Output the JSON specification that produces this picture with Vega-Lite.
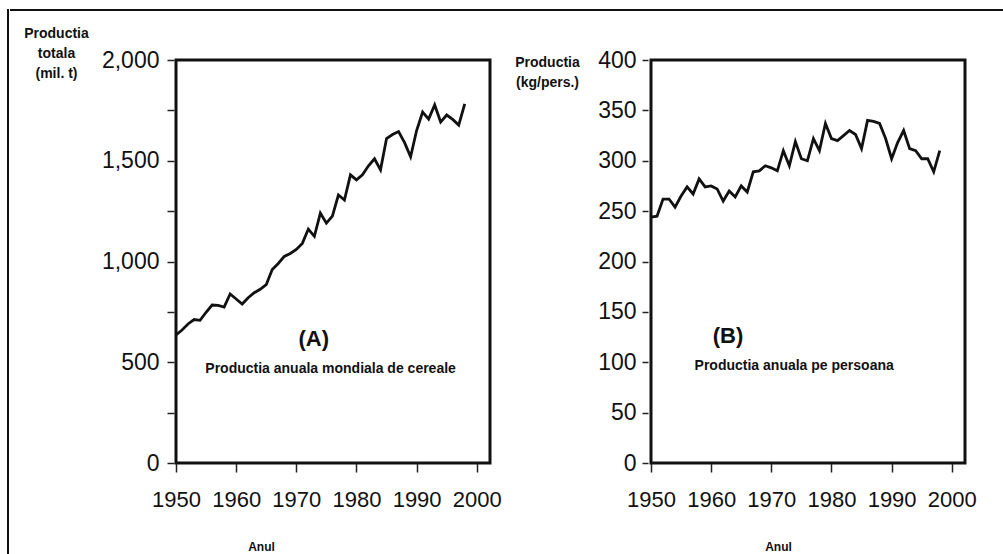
{
  "$schema": "https://vega.github.io/schema/vega-lite/v6.json",
  "background": "white",
  "padding": {"left": 7, "top": 9, "right": 0, "bottom": 0},
  "spacing": 0,
  "datasets": {
    "prod": [
      {"year": 1950, "value": 635}, {"year": 1951, "value": 660}, {"year": 1952, "value": 690}, {"year": 1953, "value": 712},
      {"year": 1954, "value": 708}, {"year": 1955, "value": 748}, {"year": 1956, "value": 784}, {"year": 1957, "value": 782},
      {"year": 1958, "value": 774}, {"year": 1959, "value": 839}, {"year": 1960, "value": 814}, {"year": 1961, "value": 789},
      {"year": 1962, "value": 820}, {"year": 1963, "value": 845}, {"year": 1964, "value": 862}, {"year": 1965, "value": 885},
      {"year": 1966, "value": 960}, {"year": 1967, "value": 990}, {"year": 1968, "value": 1025}, {"year": 1969, "value": 1040},
      {"year": 1970, "value": 1060}, {"year": 1971, "value": 1090}, {"year": 1972, "value": 1161}, {"year": 1973, "value": 1125},
      {"year": 1974, "value": 1240}, {"year": 1975, "value": 1190}, {"year": 1976, "value": 1225}, {"year": 1977, "value": 1330},
      {"year": 1978, "value": 1305}, {"year": 1979, "value": 1430}, {"year": 1980, "value": 1405}, {"year": 1981, "value": 1430},
      {"year": 1982, "value": 1475}, {"year": 1983, "value": 1510}, {"year": 1984, "value": 1455}, {"year": 1985, "value": 1610},
      {"year": 1986, "value": 1630}, {"year": 1987, "value": 1645}, {"year": 1988, "value": 1590}, {"year": 1989, "value": 1520},
      {"year": 1990, "value": 1650}, {"year": 1991, "value": 1742}, {"year": 1992, "value": 1707}, {"year": 1993, "value": 1777},
      {"year": 1994, "value": 1692}, {"year": 1995, "value": 1727}, {"year": 1996, "value": 1705}, {"year": 1997, "value": 1677},
      {"year": 1998, "value": 1782}
    ],
    "pc": [
      {"year": 1950, "value": 244}, {"year": 1951, "value": 245}, {"year": 1952, "value": 262}, {"year": 1953, "value": 262},
      {"year": 1954, "value": 254}, {"year": 1955, "value": 265}, {"year": 1956, "value": 274}, {"year": 1957, "value": 267},
      {"year": 1958, "value": 282}, {"year": 1959, "value": 274}, {"year": 1960, "value": 275}, {"year": 1961, "value": 272},
      {"year": 1962, "value": 260}, {"year": 1963, "value": 270}, {"year": 1964, "value": 264}, {"year": 1965, "value": 275},
      {"year": 1966, "value": 269}, {"year": 1967, "value": 289}, {"year": 1968, "value": 290}, {"year": 1969, "value": 295},
      {"year": 1970, "value": 293}, {"year": 1971, "value": 290}, {"year": 1972, "value": 310}, {"year": 1973, "value": 295},
      {"year": 1974, "value": 319}, {"year": 1975, "value": 302}, {"year": 1976, "value": 300}, {"year": 1977, "value": 322},
      {"year": 1978, "value": 310}, {"year": 1979, "value": 337}, {"year": 1980, "value": 322}, {"year": 1981, "value": 320},
      {"year": 1982, "value": 325}, {"year": 1983, "value": 330}, {"year": 1984, "value": 326}, {"year": 1985, "value": 312},
      {"year": 1986, "value": 340}, {"year": 1987, "value": 339}, {"year": 1988, "value": 337}, {"year": 1989, "value": 322},
      {"year": 1990, "value": 302}, {"year": 1991, "value": 318}, {"year": 1992, "value": 330}, {"year": 1993, "value": 312},
      {"year": 1994, "value": 310}, {"year": 1995, "value": 302}, {"year": 1996, "value": 302}, {"year": 1997, "value": 289},
      {"year": 1998, "value": 310}
    ],
    "notesA": [{"tag": "(A)", "desc": "Productia anuala mondiala de cereale"}],
    "notesB": [{"tag": "(B)", "desc": "Productia anuala pe persoana"}],
    "empty": []
  },
  "hconcat": [
    {
      "data": {"name": "empty"},
      "mark": "point",
      "width": 0.01,
      "height": 560,
      "view": {"stroke": "#111", "strokeWidth": 2}
    },
    {
      "spacing": 12,
      "vconcat": [
        {
          "data": {"name": "empty"},
          "mark": "point",
          "width": 1000,
          "height": 0.01,
          "view": {"stroke": "#111", "strokeWidth": 2}
        },
        {
          "spacing": 10,
          "hconcat": [
            {
              "data": {"name": "empty"},
              "mark": "point",
              "width": 0.01,
              "height": 0.01,
              "view": {"stroke": null}
            },
            {
              "width": 314,
              "height": 403,
              "layer": [
                {
                  "data": {"name": "prod"},
                  "mark": {"type": "line", "color": "#111", "strokeWidth": 2.8},
                  "encoding": {
                    "x": {
                      "field": "year", "type": "quantitative",
                      "scale": {"domain": [1950, 2002.2], "nice": false, "zero": false},
                      "axis": {
                        "values": [1950, 1960, 1970, 1980, 1990, 2000], "format": "d",
                        "tickSize": 9, "labelPadding": 17, "labelFontSize": 22, "labelOverlap": false, "labelFlush": false,
                        "title": "Anul", "titleFontSize": 12, "titleX": 85, "titleY": 83,
                        "titleAlign": "center", "titleBaseline": "middle"
                      }
                    },
                    "y": {
                      "field": "value", "type": "quantitative",
                      "scale": {"domain": [0, 2000], "nice": false},
                      "axis": {
                        "values": [0, 250, 500, 750, 1000, 1250, 1500, 1750, 2000], "format": ",d",
                        "labelExpr": "datum.value % 500 === 0 ? datum.label : ''",
                        "tickSize": 7, "offset": 2, "labelPadding": 8,
                        "title": ["Productia", "totala", "(mil. t)"], "titleFontSize": 14, "titleLineHeight": 20,
                        "titleAngle": 0, "titleAlign": "center", "titleBaseline": "top",
                        "titleX": -118, "titleY": -34
                      }
                    }
                  }
                },
                {
                  "data": {"name": "notesA"},
                  "mark": {"type": "text", "font": "Liberation Sans", "fontSize": 22, "fontWeight": "bold", "color": "#111"},
                  "encoding": {"x": {"datum": 1972.9}, "y": {"datum": 615}, "text": {"field": "tag"}}
                },
                {
                  "data": {"name": "notesA"},
                  "mark": {"type": "text", "font": "Liberation Sans", "fontSize": 14, "fontWeight": "bold", "color": "#111"},
                  "encoding": {"x": {"datum": 1975.7}, "y": {"datum": 466}, "text": {"field": "desc"}}
                }
              ]
            },
            {
              "width": 314,
              "height": 403,
              "layer": [
                {
                  "data": {"name": "pc"},
                  "mark": {"type": "line", "color": "#111", "strokeWidth": 2.8},
                  "encoding": {
                    "x": {
                      "field": "year", "type": "quantitative",
                      "scale": {"domain": [1950, 2002.2], "nice": false, "zero": false},
                      "axis": {
                        "values": [1950, 1960, 1970, 1980, 1990, 2000], "format": "d",
                        "tickSize": 9, "labelPadding": 17, "labelFontSize": 22, "labelOverlap": false, "labelFlush": false,
                        "title": "Anul", "titleFontSize": 12, "titleX": 127, "titleY": 83,
                        "titleAlign": "center", "titleBaseline": "middle"
                      }
                    },
                    "y": {
                      "field": "value", "type": "quantitative",
                      "scale": {"domain": [0, 400], "nice": false},
                      "axis": {
                        "values": [0, 50, 100, 150, 200, 250, 300, 350, 400], "format": "d",
                        "tickSize": 6, "offset": 3, "labelPadding": 6,
                        "title": ["\u00a0\u00a0Productia\u00a0\u00a0", "\u00a0\u00a0(kg/pers.)\u00a0\u00a0"], "titleFontSize": 14, "titleLineHeight": 20,
                        "titleAngle": 0, "titleAlign": "center", "titleBaseline": "top",
                        "titleX": -101, "titleY": -5
                      }
                    }
                  }
                },
                {
                  "data": {"name": "notesB"},
                  "mark": {"type": "text", "font": "Liberation Sans", "fontSize": 22, "fontWeight": "bold", "color": "#111"},
                  "encoding": {"x": {"datum": 1962.8}, "y": {"datum": 126}, "text": {"field": "tag"}}
                },
                {
                  "data": {"name": "notesB"},
                  "mark": {"type": "text", "font": "Liberation Sans", "fontSize": 14, "fontWeight": "bold", "color": "#111"},
                  "encoding": {"x": {"datum": 1973.8}, "y": {"datum": 96}, "text": {"field": "desc"}}
                }
              ]
            }
          ]
        }
      ]
    }
  ],
  "config": {
    "view": {"stroke": "#111", "strokeWidth": 3},
    "axis": {
      "domain": false, "grid": false,
      "labelFont": "Liberation Sans", "labelFontSize": 23, "labelColor": "#111",
      "tickColor": "#222", "tickWidth": 1.5,
      "titleFont": "Liberation Sans", "titleFontWeight": "bold", "titleColor": "#111"
    }
  }
}
